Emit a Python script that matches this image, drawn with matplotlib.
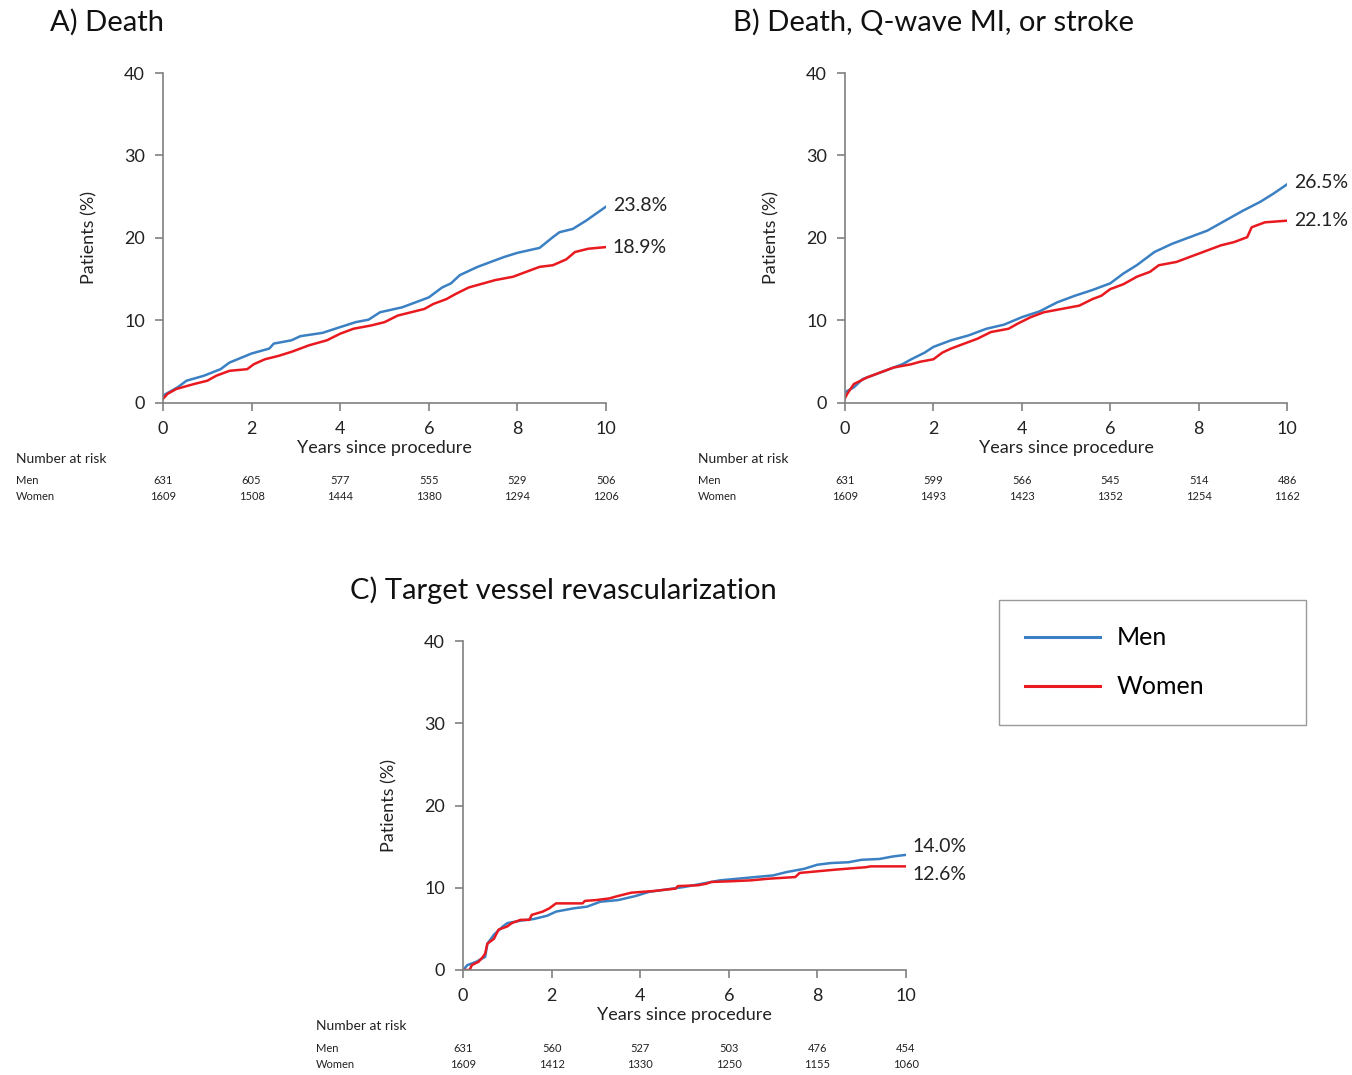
import matplotlib
matplotlib.use("Agg")
import matplotlib.pyplot as plt
import matplotlib.transforms as mtransforms

# Cumulative incidence (%).
a_men_t = [0, 0.33, 0.53, 0.92, 1.3, 1.5, 2.0, 2.4, 2.5, 2.9, 3.1, 3.6, 4.0, 4.35, 4.64, 4.9,
           5.4, 5.7, 6.0, 6.3, 6.5, 6.7, 7.1, 7.4, 7.7, 8.0, 8.5, 8.8, 8.95, 9.25, 9.55, 10]
a_men_v = [0.9, 1.9, 2.7, 3.3, 4.1, 4.9, 6.0, 6.6, 7.2, 7.6, 8.1, 8.5, 9.2, 9.8, 10.1, 11.0,
           11.6, 12.2, 12.8, 14.0, 14.5, 15.5, 16.5, 17.1, 17.7, 18.2, 18.8, 20.1, 20.7, 21.1, 22.1, 23.8]
a_women_t = [0, 0.1, 0.3, 0.7, 1.0, 1.2, 1.5, 1.9, 2.05, 2.3, 2.6, 2.9, 3.1, 3.3, 3.7, 4.0, 4.3,
             4.7, 5.0, 5.3, 5.6, 5.9, 6.1, 6.4, 6.6, 6.9, 7.1, 7.5, 7.9, 8.2, 8.5, 8.8, 9.1,
             9.3, 9.6, 10]
a_women_v = [0.5, 1.1, 1.7, 2.3, 2.7, 3.3, 3.9, 4.1, 4.7, 5.3, 5.7, 6.2, 6.6, 7.0, 7.6, 8.4, 9.0,
             9.4, 9.8, 10.6, 11.0, 11.4, 12.0, 12.6, 13.2, 14.0, 14.3, 14.9, 15.3, 15.9, 16.5,
             16.7, 17.4, 18.3, 18.7, 18.9]

b_men_t = [0, 0.2, 0.4, 0.6, 1.0, 1.3, 1.5, 1.8, 2.0, 2.4, 2.8, 3.2, 3.6, 4.0, 4.4, 4.8, 5.2,
           5.6, 6.0, 6.3, 6.6, 7.0, 7.4, 7.8, 8.2, 8.6, 9.0, 9.4, 9.7, 10]
b_men_v = [1.3, 1.9, 2.9, 3.3, 4.1, 4.7, 5.3, 6.1, 6.8, 7.6, 8.2, 9.0, 9.5, 10.4, 11.1, 12.2, 13.0,
           13.7, 14.5, 15.7, 16.7, 18.3, 19.3, 20.1, 20.9, 22.1, 23.3, 24.4, 25.4, 26.5]
b_women_t = [0, 0.05, 0.2, 0.5, 0.8, 1.1, 1.5, 1.7, 2.0, 2.2, 2.4, 2.7, 3.0, 3.3, 3.7, 3.9, 4.2,
             4.5, 4.9, 5.3, 5.6, 5.8, 6.0, 6.3, 6.6, 6.9, 7.1, 7.5, 7.8, 8.1, 8.5, 8.8, 9.1,
             9.2, 9.5, 10]
b_women_v = [0.6, 1.1, 2.3, 3.1, 3.7, 4.3, 4.7, 5.0, 5.3, 6.1, 6.6, 7.2, 7.8, 8.6, 9.0, 9.6, 10.4,
             11.0, 11.4, 11.8, 12.6, 13.0, 13.8, 14.4, 15.3, 15.9, 16.7, 17.1, 17.7, 18.3, 19.1,
             19.5, 20.1, 21.3, 21.9, 22.1]

c_men_t = [0, 0.1, 0.3, 0.5, 0.55, 0.7, 0.9, 1.0, 1.3, 1.6, 1.9, 2.1, 2.5, 2.8, 3.1, 3.5, 3.9,
           4.2, 4.6, 5.0, 5.4, 5.8, 6.2, 6.6, 7.0, 7.3, 7.7, 8.0, 8.3, 8.7, 9.0, 9.4, 9.7, 10]
c_men_v = [0, 0.6, 1.0, 1.6, 3.2, 4.3, 5.3, 5.7, 6.0, 6.2, 6.6, 7.1, 7.5, 7.7, 8.3, 8.5, 9.0,
           9.5, 9.8, 10.1, 10.5, 10.9, 11.1, 11.3, 11.5, 11.9, 12.3, 12.8, 13.0, 13.1, 13.4,
           13.5, 13.8, 14.0]
c_women_t = [0, 0.15, 0.2, 0.35, 0.45, 0.5, 0.55, 0.7, 0.8, 1.0, 1.1, 1.3, 1.5, 1.55, 1.8, 1.95,
             2.1, 2.7, 2.75, 3.0, 3.3, 3.5, 3.8, 4.3, 4.8, 4.85, 5.3, 5.5, 5.6, 6.1, 6.5, 6.9,
             7.5, 7.6, 8.2, 8.4, 9.1, 9.2, 10]
c_women_v = [0, 0, 0.6, 1.0, 1.6, 2.0, 3.2, 3.8, 4.9, 5.3, 5.7, 6.1, 6.1, 6.7, 7.1, 7.5,
             8.1, 8.1, 8.4, 8.5, 8.7, 9.0, 9.4, 9.6, 9.9, 10.2, 10.3, 10.5, 10.7, 10.8, 10.9,
             11.1, 11.3, 11.8, 12.1, 12.2, 12.5, 12.6, 12.6]

risk_times = [0, 2, 4, 6, 8, 10]
a_risk_men = [631, 605, 577, 555, 529, 506]
a_risk_women = [1609, 1508, 1444, 1380, 1294, 1206]
b_risk_men = [631, 599, 566, 545, 514, 486]
b_risk_women = [1609, 1493, 1423, 1352, 1254, 1162]
c_risk_men = [631, 560, 527, 503, 476, 454]
c_risk_women = [1609, 1412, 1330, 1250, 1155, 1060]

titles = ["A) Death", "B) Death, Q-wave MI, or stroke", "C) Target vessel revascularization"]
end_labels = [("23.8%", "18.9%"), ("26.5%", "22.1%"), ("14.0%", "12.6%")]

men_color = "#3b80c3"
women_color = "#e8191f"
axis_grey = "#808080"
text_col = "#222222"

plt.rcParams["font.family"] = ["Lato", "DejaVu Sans"]

W, H = 1352, 1075
fig = plt.figure(figsize=(W / 100, H / 100), dpi=100)


def px_axes(x0, x1, y_top, y_bot):
    return fig.add_axes([x0 / W, 1 - y_bot / H, (x1 - x0) / W, (y_bot - y_top) / H])


def draw_panel(ax, men_t, men_v, women_t, women_v, risk_men, risk_women, labels,
               label_offsets, title, title_xy, risk_label_y):
    lm, = ax.plot(men_t, men_v, color=men_color, lw=1.8, label="Men")
    lw_, = ax.plot(women_t, women_v, color=women_color, lw=1.8, label="Women")
    ax.set_xlim(0, 10)
    ax.set_ylim(0, 40)
    ax.set_xticks(risk_times)
    ax.set_yticks([0, 10, 20, 30, 40])
    for side in ("top", "right"):
        ax.spines[side].set_visible(False)
    for side in ("left", "bottom"):
        ax.spines[side].set_color(axis_grey)
        ax.spines[side].set_linewidth(1.2)
    ax.tick_params(axis="both", colors=axis_grey, labelcolor=text_col, labelsize=13,
                   length=6, width=1.2)
    ax.tick_params(axis="x", pad=7)
    ax.tick_params(axis="y", pad=7)
    ax.set_xlabel("Years since procedure", fontsize=13, color=text_col, labelpad=2)
    ax.set_ylabel("Patients (%)", fontsize=13, color=text_col, labelpad=19)

    ax.annotate(labels[0], (10, men_v[-1]), xytext=(5, label_offsets[0]),
                textcoords="offset points", fontsize=14, va="center", color=text_col)
    ax.annotate(labels[1], (10, women_v[-1]), xytext=(5, label_offsets[1]),
                textcoords="offset points", fontsize=14, va="center", color=text_col)

    fig.text(title_xy[0] / W, 1 - title_xy[1] / H, title, fontsize=21, va="center",
             ha="left", color="#111111")

    trans = mtransforms.blended_transform_factory(ax.transData, fig.transFigure)
    fig.text(title_xy[2] / W, 1 - risk_label_y / H, "Number at risk", fontsize=10,
             va="center", color=text_col)
    fig.text(title_xy[2] / W, 1 - (risk_label_y + 22) / H, "Men", fontsize=8,
             va="center", color=text_col)
    fig.text(title_xy[2] / W, 1 - (risk_label_y + 38) / H, "Women", fontsize=8,
             va="center", color=text_col)
    for t, m, w in zip(risk_times, risk_men, risk_women):
        ax.text(t, 1 - (risk_label_y + 22) / H, str(m), transform=trans, fontsize=8,
                ha="center", va="center", color=text_col)
        ax.text(t, 1 - (risk_label_y + 38) / H, str(w), transform=trans, fontsize=8,
                ha="center", va="center", color=text_col)
    return lm, lw_


ax_a = px_axes(163, 606, 73, 403)
ax_b = px_axes(845, 1287, 73, 403)
ax_c = px_axes(463, 906, 641, 970)

handles = draw_panel(ax_a, a_men_t, a_men_v, a_women_t, a_women_v, a_risk_men, a_risk_women,
                     end_labels[0], (1, 0), titles[0], (50, 22, 16), 459)
draw_panel(ax_b, b_men_t, b_men_v, b_women_t, b_women_v, b_risk_men, b_risk_women,
           end_labels[1], (1, 0), titles[1], (733, 22, 698), 459)
draw_panel(ax_c, c_men_t, c_men_v, c_women_t, c_women_v, c_risk_men, c_risk_women,
           end_labels[2], (6, -6), titles[2], (350, 590, 316), 1026)

leg = fig.legend(handles, ["Men", "Women"], loc="upper left",
                 bbox_to_anchor=(999 / W, 1 - 721 / H, 307 / W, 121 / H), mode="expand",
                 fontsize=18, handlelength=3.0, handletextpad=0.65, borderpad=1.05,
                 labelspacing=1.05, frameon=True, fancybox=False, edgecolor=axis_grey,
                 borderaxespad=0)
leg.get_frame().set_linewidth(1.0)
for line in leg.get_lines():
    line.set_linewidth(2.2)

fig.savefig("out.png", dpi=100)
